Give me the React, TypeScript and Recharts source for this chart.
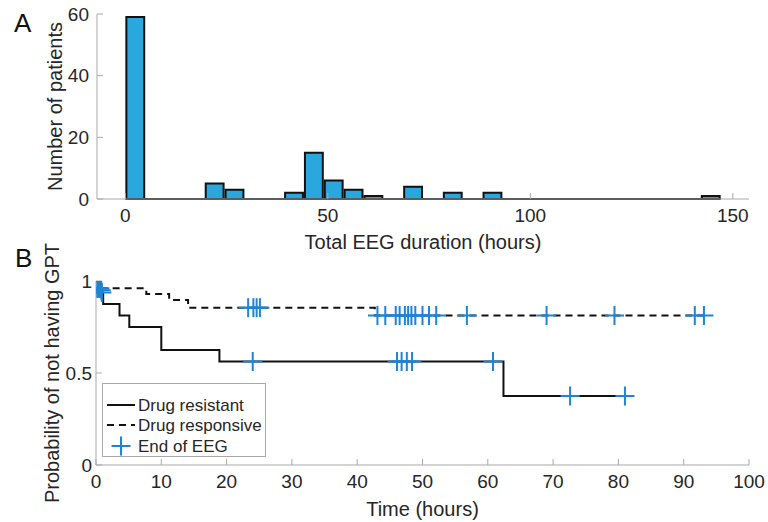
import React from "react"
import {
  ComposedChart,
  Bar,
  Line,
  Scatter,
  XAxis,
  YAxis,
  ReferenceLine,
  Legend,
  Label,
} from "recharts"

const FONT = '"Liberation Sans", Arial, Helvetica, sans-serif'
const BOX_GRAY = "#a9a9a9"
const INK = "#262626"
const HIST_BLUE = "#2aa7dd"
const MARK_BLUE = "#1f84d4"

// ── Panel A: total EEG duration histogram ─────────────────────
const binEdges = [
  0, 4.9, 9.8, 14.7, 19.6, 24.5, 29.4, 34.3, 39.2, 44.1, 49, 53.9, 58.8, 63.7, 68.6, 73.5,
  78.4, 83.3, 88.2, 93.1, 98, 102.9, 107.8, 112.7, 117.6, 122.5, 127.4, 132.3, 137.2, 142.1, 147,
]
const patientCounts = [
  59, 0, 0, 0, 5, 3, 0, 0, 2, 15,
  6, 3, 1, 0, 4, 0, 2, 0, 2, 0,
  0, 0, 0, 0, 0, 0, 0, 0, 0, 1,
]
const durationTicks = [0, 50, 100, 150]
const countTicks = [0, 20, 40, 60]

// ── Panel B: Kaplan-Meier, probability of not having GPT ──────
const resistantTime = [0, 0.7, 1.1, 3.6, 5.1, 10.0, 18.9, 62.4, 81.0]
const resistantSurv = [1, 0.9375, 0.875, 0.8125, 0.75, 0.625, 0.5625, 0.375, 0.375]
const responsiveTime = [0, 0.4, 7.7, 11.2, 14.1, 42.7, 93.1]
const responsiveSurv = [1, 0.96, 0.93, 0.897, 0.855, 0.8125, 0.8125]

const resistantCensorTime = [0.9, 24.0, 46.1, 46.8, 47.6, 48.4, 60.8, 72.6, 81.0]
const resistantCensorSurv = [0.9375, 0.5625, 0.5625, 0.5625, 0.5625, 0.5625, 0.5625, 0.375, 0.375]
const responsiveCensorTime = [
  0.2, 0.4, 0.6, 0.8, 23.3, 24.1, 24.6, 25.1, 43.1, 44.3, 45.9, 46.5, 47.3, 47.8, 48.3, 48.9,
  50.0, 51.0, 52.1, 56.8, 69.0, 79.4, 91.7, 93.1,
]
const responsiveCensorSurv = [
  0.96, 0.96, 0.96, 0.95, 0.855, 0.855, 0.855, 0.855, 0.8125, 0.8125, 0.8125, 0.8125, 0.8125,
  0.8125, 0.8125, 0.8125, 0.8125, 0.8125, 0.8125, 0.8125, 0.8125, 0.8125, 0.8125, 0.8125,
]
const timeTicks = [0, 10, 20, 30, 40, 50, 60, 70, 80, 90, 100]
const probTicks = [0, 0.5, 1]
const legendLabels = ["Drug resistant", "Drug responsive", "End of EEG"]

const histData = patientCounts.map((count, i) => ({
  mid: (binEdges[i] + binEdges[i + 1]) / 2,
  count,
}))
const toPoints = (t: number[], s: number[]) => t.map((v, i) => ({ t: v, s: s[i] }))
const resistantData = toPoints(resistantTime, resistantSurv)
const responsiveData = toPoints(responsiveTime, responsiveSurv)
const censorData = [
  ...toPoints(resistantCensorTime, resistantCensorSurv),
  ...toPoints(responsiveCensorTime, responsiveCensorSurv),
]

// layout
const W = 768
const PLOT_LEFT_A = 97
const PLOT_LEFT_B = 96
const RIGHT = 19
const B_TOP = 230
const A_DOMAIN: [number, number] = [-7, 154]
const barPx =
  ((W - PLOT_LEFT_A - RIGHT) / (A_DOMAIN[1] - A_DOMAIN[0])) * (binEdges[1] - binEdges[0])

const axisStyle = { stroke: BOX_GRAY, strokeWidth: 1 }
const tickStyle = { fill: INK, fontSize: 19, fontFamily: FONT }

function RotatedTitle(props: any) {
  const { viewBox, value, tx } = props
  const cy = viewBox.y + viewBox.height / 2
  return (
    <text
      x={tx}
      y={cy}
      transform={`rotate(-90 ${tx} ${cy})`}
      textAnchor="middle"
      dominantBaseline="central"
      fill={INK}
      fontSize={20}
      fontFamily={FONT}
    >
      {value}
    </text>
  )
}

function Cross(props: any) {
  const { cx, cy } = props
  if (cx == null || cy == null) return null
  const r = 9.5
  return (
    <g stroke={MARK_BLUE} strokeWidth={2}>
      <line x1={cx - r} y1={cy} x2={cx + r} y2={cy} />
      <line x1={cx} y1={cy - r} x2={cx} y2={cy + r} />
    </g>
  )
}

function KMLegend() {
  const rows = [21, 41, 62]
  return (
    <div
      style={{
        width: 164,
        height: 74,
        boxSizing: "border-box",
        border: `1px solid ${BOX_GRAY}`,
        background: "#fff",
      }}
    >
      <svg width={162} height={72} style={{ display: "block" }}>
        <line x1={4} y1={rows[0]} x2={32} y2={rows[0]} stroke="#111" strokeWidth={2} />
        <line x1={4} y1={rows[1]} x2={32} y2={rows[1]} stroke="#111" strokeWidth={2} strokeDasharray="7 5" />
        <Cross cx={18} cy={rows[2]} />
        {legendLabels.map((label, i) => (
          <text key={label} x={35} y={rows[i]} dominantBaseline="central" fill={INK} fontSize={17} fontFamily={FONT}>
            {label}
          </text>
        ))}
      </svg>
    </div>
  )
}

export default function App() {
  return (
    <div style={{ position: "absolute", left: 0, top: 0, width: W, height: 522, background: "#fff" }}>
      {/* A */}
      <div style={{ position: "absolute", left: 0, top: 0 }}>
        <ComposedChart
          width={W}
          height={260}
          data={histData}
          margin={{ top: 14, right: RIGHT, bottom: 0, left: 0 }}
          barGap={0}
          barCategoryGap={0}
          style={{ fontFamily: FONT }}
        >
          <XAxis
            type="number"
            dataKey="mid"
            domain={A_DOMAIN}
            ticks={durationTicks}
            interval={0}
            allowDataOverflow
            height={61}
            tickSize={-6}
            tickMargin={16}
            axisLine={axisStyle}
            tickLine={axisStyle}
            tick={tickStyle}
          >
            <Label
              value="Total EEG duration (hours)"
              position="insideBottom"
              offset={11}
              fill={INK}
              fontSize={20}
              fontFamily={FONT}
            />
          </XAxis>
          <XAxis
            xAxisId="top"
            orientation="top"
            type="number"
            domain={A_DOMAIN}
            ticks={durationTicks}
            interval={0}
            allowDataOverflow
            height={0}
            tickSize={-6}
            tick={false}
            axisLine={axisStyle}
            tickLine={axisStyle}
          />
          <YAxis
            type="number"
            domain={[0, 60]}
            ticks={countTicks}
            interval={0}
            allowDataOverflow
            width={PLOT_LEFT_A}
            tickSize={-6}
            tickMargin={14}
            axisLine={axisStyle}
            tickLine={axisStyle}
            tick={tickStyle}
          >
            <Label value="Number of patients" content={(p: any) => <RotatedTitle {...p} tx={55} />} />
          </YAxis>
          <YAxis
            yAxisId="right"
            orientation="right"
            type="number"
            domain={[0, 60]}
            ticks={countTicks}
            interval={0}
            allowDataOverflow
            width={0}
            tickSize={-6}
            tick={false}
            axisLine={axisStyle}
            tickLine={axisStyle}
          />
          <Bar
            dataKey="count"
            fill={HIST_BLUE}
            stroke="#111"
            strokeWidth={2}
            barSize={barPx}
            isAnimationActive={false}
          />
          <ReferenceLine
            segment={[
              { x: binEdges[0], y: 0 },
              { x: binEdges[binEdges.length - 1], y: 0 },
            ]}
            stroke="#111"
            strokeWidth={2}
          />
        </ComposedChart>
      </div>

      {/* B */}
      <div style={{ position: "absolute", left: 0, top: B_TOP }}>
        <ComposedChart
          width={W}
          height={522 - B_TOP}
          margin={{ top: 281 - B_TOP, right: RIGHT, bottom: 0, left: 0 }}
          style={{ fontFamily: FONT }}
        >
          <XAxis
            type="number"
            dataKey="t"
            domain={[0, 100]}
            ticks={timeTicks}
            interval={0}
            allowDataOverflow
            height={57}
            tickSize={-6}
            tickMargin={16}
            axisLine={axisStyle}
            tickLine={axisStyle}
            tick={tickStyle}
          >
            <Label value="Time (hours)" position="insideBottom" offset={6} fill={INK} fontSize={20} fontFamily={FONT} />
          </XAxis>
          <XAxis
            xAxisId="top"
            orientation="top"
            type="number"
            domain={[0, 100]}
            ticks={timeTicks}
            interval={0}
            allowDataOverflow
            height={0}
            tickSize={-6}
            tick={false}
            axisLine={axisStyle}
            tickLine={axisStyle}
          />
          <YAxis
            type="number"
            domain={[0, 1]}
            ticks={probTicks}
            interval={0}
            allowDataOverflow
            width={PLOT_LEFT_B}
            tickSize={-6}
            tickMargin={10}
            axisLine={axisStyle}
            tickLine={axisStyle}
            tick={tickStyle}
          >
            <Label value="Probability of not having GPT" content={(p: any) => <RotatedTitle {...p} tx={52} />} />
          </YAxis>
          <YAxis
            yAxisId="right"
            orientation="right"
            type="number"
            domain={[0, 1]}
            ticks={probTicks}
            interval={0}
            allowDataOverflow
            width={0}
            tickSize={-6}
            tick={false}
            axisLine={axisStyle}
            tickLine={axisStyle}
          />
          <Line
            data={resistantData}
            dataKey="s"
            name="Drug resistant"
            type="stepAfter"
            stroke="#111"
            strokeWidth={2}
            dot={false}
            isAnimationActive={false}
          />
          <Line
            data={responsiveData}
            dataKey="s"
            name="Drug responsive"
            type="stepAfter"
            stroke="#111"
            strokeWidth={2}
            strokeDasharray="7 5"
            dot={false}
            isAnimationActive={false}
          />
          <Scatter
            data={censorData}
            dataKey="s"
            name="End of EEG"
            shape={(p: any) => <Cross {...p} />}
            isAnimationActive={false}
          />
          <Legend
            layout="vertical"
            align="center"
            verticalAlign="middle"
            content={() => <KMLegend />}
            wrapperStyle={{ left: 102, top: 383 - B_TOP, width: 164, height: 74 }}
          />
        </ComposedChart>
      </div>

      <svg width={W} height={522} style={{ position: "absolute", left: 0, top: 0, pointerEvents: "none" }}>
        <text x={14} y={32} fontSize={26} fill="#111" fontFamily={FONT}>A</text>
        <text x={15} y={267} fontSize={26} fill="#111" fontFamily={FONT}>B</text>
      </svg>
    </div>
  )
}
